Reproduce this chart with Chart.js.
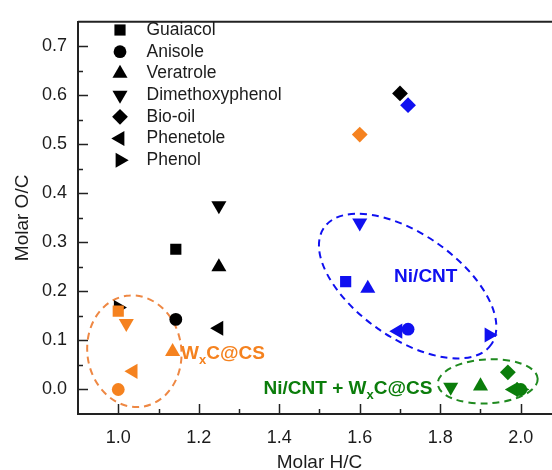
<!DOCTYPE html>
<html>
<head>
<meta charset="utf-8">
<script src="https://cdn.jsdelivr.net/npm/chart.js@4.4.0/dist/chart.umd.min.js"></script>
<style>
  html, body { margin: 0; padding: 0; overflow: hidden; background: #fff; }
</style>
</head>
<body>
<canvas id="c" width="571" height="470"></canvas>
<script>
// compounds, in legend order
const compounds = ['Guaiacol', 'Anisole', 'Veratrole', 'Dimethoxyphenol', 'Bio-oil', 'Phenetole', 'Phenol'];

// feed (black)
const feedHC = [1.143, 1.143, 1.25, 1.25, 1.70, 1.25, 1.0];
const feedOC = [0.286, 0.143, 0.25, 0.375, 0.604, 0.125, 0.167];
// WxC@CS (orange)
const wxcHC = [1.0, 1.0, 1.135, 1.02, 1.60, 1.037, null];
const wxcOC = [0.16, 0.0, 0.077, 0.135, 0.52, 0.037, null];
// Ni/CNT (blue)
const niHC = [1.565, 1.72, 1.62, 1.60, 1.72, 1.695, 1.921];
const niOC = [0.22, 0.123, 0.206, 0.34, 0.58, 0.119, 0.111];
// Ni/CNT + WxC@CS (green)
const mixHC = [null, 2.0, 1.90, 1.826, 1.968, 1.982, 2.0];
const mixOC = [null, 0.0, 0.007, 0.005, 0.035, 0.0, 0.0];

const xTicks = [1.0, 1.2, 1.4, 1.6, 1.8, 2.0];
const xMinor = [1.1, 1.3, 1.5, 1.7, 1.9];
const yTicks = [0.0, 0.1, 0.2, 0.3, 0.4, 0.5, 0.6, 0.7];
const yMinor = [0.05, 0.15, 0.25, 0.35, 0.45, 0.55, 0.65];

const FONT = "'Liberation Sans', Arial, Helvetica, sans-serif";
const INK = '#1c1c1c';
const ORANGE = '#f5821f', BLUE = '#1010f0', GREEN = '#0b7d0b';

// marker shape per compound
const markers = [
  { style: 'rect', rot: 0, r: 7.9 },
  { style: 'circle', rot: 0, r: 6.4 },
  { style: 'triangle', rot: 0, r: 8.7 },
  { style: 'triangle', rot: 180, r: 8.7 },
  { style: 'rectRot', rot: 0, r: 7.9 },
  { style: 'triangle', rot: -90, r: 8.7 },
  { style: 'triangle', rot: 90, r: 8.7 }
];

// dashed group outlines: centre in data units, radii in px
const groups = [
  { x: 1.04, y: 0.078, rx: 47, ry: 56, angle: -8, color: '#ee8844' },
  { x: 1.719, y: 0.211, rx: 102, ry: 52, angle: 35, color: BLUE },
  { x: 1.918, y: 0.0166, rx: 50, ry: 22, angle: -3, color: '#1f8a1f' }
];

const notes = [
  { x: 1.764, y: 0.219, align: 'center', color: BLUE, parts: [['Ni/CNT', 0]] },
  { x: 1.156, y: 0.063, align: 'left', color: ORANGE, parts: [['W', 0], ['x', 1], ['C@CS', 0]] },
  { x: 1.361, y: -0.01, align: 'left', color: GREEN, parts: [['Ni/CNT + W', 0], ['x', 1], ['C@CS', 0]] }
];

function points(hc, oc) {
  const out = [];
  hc.forEach((v, i) => { if (v !== null) out.push({ x: v, y: oc[i], k: i }); });
  return out;
}

function series(label, hc, oc, color, order) {
  return {
    label: label,
    data: points(hc, oc),
    backgroundColor: color,
    borderWidth: 0,
    order: order,
    pointStyle: c => markers[c.raw.k].style,
    rotation: c => markers[c.raw.k].rot,
    pointRadius: c => markers[c.raw.k].r,
    pointHoverRadius: c => markers[c.raw.k].r,
    pointBorderWidth: 0
  };
}

const decor = {
  id: 'decor',
  beforeDatasetsDraw(chart) {
    const { ctx, chartArea: a, scales: { x, y } } = chart;
    ctx.save();
    // top frame line
    ctx.strokeStyle = '#222';
    ctx.lineWidth = 2;
    ctx.beginPath();
    ctx.moveTo(a.left, a.top);
    ctx.lineTo(a.right, a.top);
    ctx.stroke();
    // inward ticks
    ctx.lineWidth = 1.5;
    ctx.beginPath();
    yTicks.forEach(v => { const p = Math.round(y.getPixelForValue(v)) + 0.5; ctx.moveTo(a.left, p); ctx.lineTo(a.left + 10, p); });
    yMinor.forEach(v => { const p = Math.round(y.getPixelForValue(v)) + 0.5; ctx.moveTo(a.left, p); ctx.lineTo(a.left + 5, p); });
    xTicks.forEach(v => { const p = Math.round(x.getPixelForValue(v)) + 0.5; ctx.moveTo(p, a.bottom); ctx.lineTo(p, a.bottom - 10); });
    xMinor.forEach(v => { const p = Math.round(x.getPixelForValue(v)) + 0.5; ctx.moveTo(p, a.bottom); ctx.lineTo(p, a.bottom - 5); });
    ctx.stroke();
    // dashed group outlines
    ctx.lineWidth = 2;
    ctx.setLineDash([7, 5]);
    groups.forEach(g => {
      ctx.strokeStyle = g.color;
      ctx.beginPath();
      ctx.ellipse(x.getPixelForValue(g.x), y.getPixelForValue(g.y), g.rx, g.ry, g.angle * Math.PI / 180, 0, Math.PI * 2);
      ctx.stroke();
    });
    ctx.restore();
  },
  afterDraw(chart) {
    const { ctx, scales: { x, y } } = chart;
    ctx.save();
    // group labels with subscript x
    notes.forEach(n => {
      const big = 'bold 19px ' + FONT, small = 'bold 13px ' + FONT;
      let w = 0;
      n.parts.forEach(p => { ctx.font = p[1] ? small : big; w += ctx.measureText(p[0]).width; });
      let px = x.getPixelForValue(n.x);
      const py = y.getPixelForValue(n.y);
      if (n.align === 'center') px -= w / 2;
      ctx.fillStyle = n.color;
      ctx.textBaseline = 'alphabetic';
      ctx.textAlign = 'left';
      n.parts.forEach(p => {
        ctx.font = p[1] ? small : big;
        ctx.fillText(p[0], px, py + (p[1] ? 5 : 0));
        px += ctx.measureText(p[0]).width;
      });
    });
    // legend, black markers
    compounds.forEach((name, i) => {
      const ly = 30 + i * 21.7;
      const m = markers[i];
      ctx.fillStyle = '#000';
      Chart.helpers.drawPoint(ctx, { pointStyle: m.style, rotation: m.rot, radius: m.r, borderWidth: 0 }, 120, ly);
      ctx.fillStyle = INK;
      ctx.font = '17.5px ' + FONT;
      ctx.textAlign = 'left';
      ctx.textBaseline = 'middle';
      ctx.fillText(name, 146.5, ly);
    });
    ctx.restore();
  }
};

new Chart(document.getElementById('c'), {
  type: 'scatter',
  data: {
    datasets: [
      series('Feed', feedHC, feedOC, '#000', 3),
      series('WxC@CS', wxcHC, wxcOC, ORANGE, 2),
      series('Ni/CNT', niHC, niOC, BLUE, 1),
      series('Ni/CNT + WxC@CS', mixHC, mixOC, GREEN, 0)
    ]
  },
  options: {
    responsive: false,
    animation: false,
    layout: { padding: { top: 14, right: 10, left: 0, bottom: 0 } },
    plugins: { legend: { display: false }, tooltip: { enabled: false } },
    scales: {
      x: {
        type: 'linear', min: 0.9, max: 2.1,
        afterBuildTicks: s => { s.ticks = xTicks.map(v => ({ value: v })); },
        afterFit: s => { s.height = 56; },
        grid: { display: false, drawTicks: false },
        border: { display: true, color: '#222', width: 2 },
        ticks: { callback: v => v.toFixed(1), color: INK, font: { family: FONT, size: 18 }, padding: 13, maxRotation: 0, autoSkip: false },
        title: { display: true, text: 'Molar H/C', color: INK, font: { family: FONT, size: 19 }, padding: { top: 0, bottom: -4 } }
      },
      y: {
        type: 'linear', min: -0.05, max: 0.75,
        afterBuildTicks: s => { s.ticks = yTicks.map(v => ({ value: v })); },
        afterFit: s => { s.width = 78; },
        grid: { display: false, drawTicks: false },
        border: { display: true, color: '#222', width: 2 },
        ticks: { callback: v => v.toFixed(1), color: INK, font: { family: FONT, size: 18 }, padding: 11, autoSkip: false },
        title: { display: true, text: 'Molar O/C', color: INK, font: { family: FONT, size: 19 }, padding: { top: 11, bottom: 0 } }
      }
    }
  },
  plugins: [decor]
});
</script>
</body>
</html>
